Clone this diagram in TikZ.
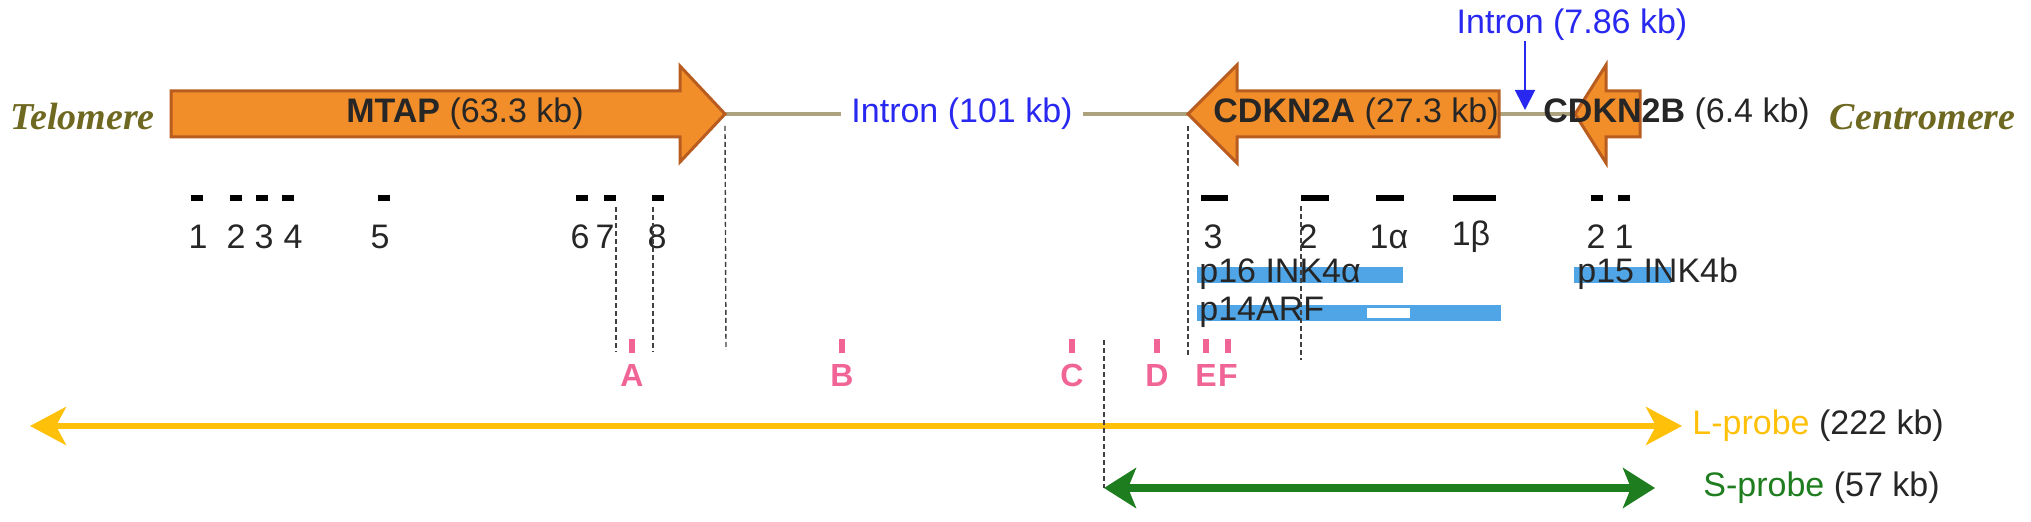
\documentclass[tikz,border=0pt]{standalone}
\usepackage{fontspec}
\setmainfont{Liberation Sans}
\newfontfamily\chromfont{Liberation Serif}
\usepackage{xcolor}
\usepackage{tikz}
\usetikzlibrary{arrows.meta, positioning}

\definecolor{geneorange}{RGB}{242,142,42}
\definecolor{geneedge}{RGB}{184,92,32}
\definecolor{introncol}{RGB}{172,162,126}
\definecolor{chromcol}{RGB}{110,104,32}
\definecolor{intronblue}{RGB}{40,40,240}
\definecolor{probepink}{RGB}{240,100,150}
\definecolor{bandblue}{RGB}{80,165,230}
\definecolor{lprobecol}{RGB}{255,192,10}
\definecolor{sprobecol}{RGB}{30,125,30}

\newcommand{\genefont}{\fontsize{17}{20}\selectfont}

\begin{document}
\begin{tikzpicture}[
    x=0.5pt, y=0.5pt,
    gene/.style={fill=geneorange, draw=geneedge, line width=1.5pt, line join=miter},
    genelabel/.style={font=\genefont, text=black!85, inner sep=0pt},
    intron/.style={draw=introncol, line width=2pt},
    intronlabel/.style={font=\genefont, text=intronblue, inner sep=5pt},
    intronarrow/.style={draw=intronblue, line width=0.9pt, -{Triangle[length=10pt,width=10pt]}},
    chromlabel/.style={font=\chromfont\bfseries\itshape\fontsize{19}{22}\selectfont, text=chromcol, inner sep=0pt},
    exon/.style={line width=3pt, black},
    exonnum/.style={font=\genefont, text=black!85, inner sep=0pt},
    isoform/.style={fill=bandblue, draw=none},
    isolabel/.style={font=\genefont, text=black!85, inner sep=0pt, anchor=base west},
    guide/.style={black!75, line width=0.7pt, dash pattern=on 2.5pt off 1.5pt},
    probemark/.style={draw=probepink, line width=3pt},
    probename/.style={font=\bfseries\fontsize{16}{18}\selectfont, text=probepink, inner sep=0pt},
    lprobeline/.style={draw=lprobecol, line width=3pt, {Stealth[length=18pt,width=19pt,inset=5pt]}-{Stealth[length=18pt,width=19pt,inset=5pt]}},
    sprobeline/.style={draw=sprobecol, line width=4pt, {Stealth[length=16pt,width=20pt,inset=4pt]}-{Stealth[length=16pt,width=20pt,inset=4pt]}},
    probelabel/.style={font=\genefont, text=black!85, inner sep=0pt, anchor=west}
]
\useasboundingbox (0,0) rectangle (2031,-522);

% --- chromosome backbone ---
\coordinate (mtaptip) at (725,-114);
\coordinate (cdknatip) at (1188,-114);
\coordinate (cdknaend) at (1499,-114);
\coordinate (cdknbtip) at (1575,-114);
\node[intronlabel] (intA) at (962,-114) {Intron (101 kb)};
\draw[intron] (mtaptip) -- (intA.west);
\draw[intron] (intA.east) -- (cdknatip);
\draw[intron] (cdknaend) -- (cdknbtip);

% --- genes ---
\filldraw[gene] (171,-91) -- (680,-91) -- (680,-66) -- (mtaptip) -- (680,-162) -- (680,-137) -- (171,-137) -- cycle;
\filldraw[gene] (cdknatip) -- (1237,-65) -- (1237,-91) -- (1499,-91) -- (1499,-137) -- (1237,-137) -- (1237,-163) -- cycle;
\filldraw[gene] (cdknbtip) -- (1606,-65) -- (1606,-91) -- (1640,-91) -- (1640,-137) -- (1606,-137) -- (1606,-163) -- cycle;

\node[genelabel] (mtap) at (465,-114) {\textbf{MTAP} (63.3 kb)};
\node[genelabel, anchor=west] (cdkna) at (1213,-114) {\textbf{CDKN2A} (27.3 kb)};
\node[genelabel, anchor=west] (cdknb) at (1543,-114) {\textbf{CDKN2B} (6.4 kb)};

\node[chromlabel, anchor=west] (telo) at (10,-117) {Telomere};
\node[chromlabel, anchor=east] (centro) at (2016,-117) {Centromere};

% small intron between CDKN2A and CDKN2B
\node[intronlabel, inner sep=0pt] (intB) at (1572,-25) {Intron (7.86 kb)};
\coordinate (intBtip) at (1525,-110);
\draw[intronarrow] (intB.south -| intBtip) -- (intBtip);

% --- exons ---
\foreach \a/\b/\lx/\t [count=\i] in {191/203/198/1, 230/242/236/2, 256/268/264/3, 282/294/293/4,
    378/390/380/5, 576/588/580/6, 604/616/605/7, 652/664/657/8} {
  \draw[exon] (\a,-198) -- (\b,-198);
  \node[exonnum] (mex\i) at (\lx,-237) {\t};
}
\foreach \a/\b/\lx/\t [count=\i] in {1201/1228/1213/3, 1301/1329/1308/2, 1376/1404/1389/1α,
    1453/1496/1471/1β, 1591/1603/1596/2, 1618/1630/1624/1} {
  \draw[exon] (\a,-198) -- (\b,-198);
  \node[exonnum] (cex\i) at (\lx,-237) {\t};
}

% --- transcripts ---
\fill[isoform] (1197,-267) rectangle (1403,-283);
\fill[isoform] (1197,-305) rectangle (1501,-321);
\fill[white] (1367,-308) rectangle (1410,-318);
\fill[isoform] (1574,-267) rectangle (1671,-283);
\node[isolabel] (p16) at (1199,-283) {p16 INK4α};
\node[isolabel] (p14) at (1199,-321) {p14ARF};
\node[isolabel] (p15) at (1577,-283) {p15 INK4b};

% --- breakpoint guides ---
\coordinate (g7top) at (616,-207);  \coordinate (g7bot) at (616,-352);
\coordinate (g8top) at (653,-207);  \coordinate (g8bot) at (653,-352);
\coordinate (gmbot) at (726,-350);
\coordinate (gatop) at (1188,-126); \coordinate (gabot) at (1188,-356);
\coordinate (g2top) at (1301,-206); \coordinate (g2bot) at (1301,-360);
\draw[guide] (g7top) -- (g7bot);
\draw[guide] (g8top) -- (g8bot);
\draw[guide] ([yshift=-6pt]mtaptip) -- (gmbot);
\draw[guide] (gatop) -- (gabot);
\draw[guide] (g2top) -- (g2bot);

% --- probe positions ---
\foreach \x/\t in {632/A, 842/B, 1072/C, 1157/D, 1206/E, 1228/F} {
  \draw[probemark] (\x,-339) -- (\x,-353);
  \node[probename] (pr\t) at (\x,-375) {\t};
}

% --- probes ---
\coordinate (lleft) at (30,-426);
\coordinate (lright) at (1682,-426);
\coordinate (sleft) at (1104,-488);
\coordinate (sright) at (1655,-488);
\coordinate (stop) at (1104,-340);
\draw[lprobeline] (lleft) -- (lright);
\draw[sprobeline] (sleft) -- (sright);
\draw[guide] (stop) -- (sleft);
\node[probelabel, right=5pt of lright] (lprobe) {\textcolor{lprobecol}{L-probe} (222 kb)};
\node[probelabel, right=24pt of sright] (sprobe) {\textcolor{sprobecol}{S-probe} (57 kb)};

\end{tikzpicture}
\end{document}
